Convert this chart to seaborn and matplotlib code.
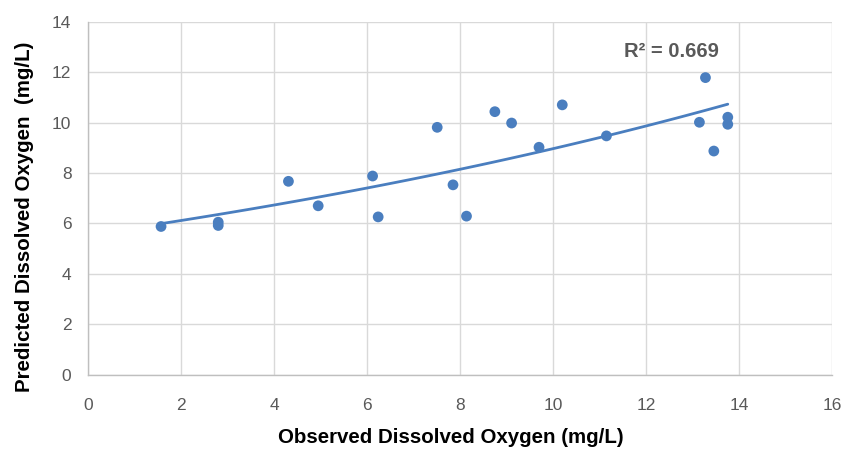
import numpy as np
import pandas as pd
import matplotlib
matplotlib.use("Agg")
import matplotlib.pyplot as plt
import seaborn as sns

# observed vs predicted dissolved oxygen (mg/L)
observed = [1.57, 2.80, 2.80, 4.31, 4.95, 6.12, 6.24, 7.51, 7.85, 8.14,
            8.75, 9.11, 9.70, 10.20, 11.15, 13.15, 13.28, 13.46, 13.76, 13.76]
predicted = [5.88, 6.05, 5.92, 7.67, 6.70, 7.88, 6.26, 9.81, 7.53, 6.29,
             10.43, 9.98, 9.02, 10.70, 9.47, 10.01, 11.78, 8.87, 10.21, 9.93]
r2_label = "R\u00b2 = 0.669"
x_ticks = [0, 2, 4, 6, 8, 10, 12, 14, 16]
y_ticks = [0, 2, 4, 6, 8, 10, 12, 14]

df = pd.DataFrame({"observed": observed, "predicted": predicted})

sns.set_style("whitegrid")
plt.rcParams["font.family"] = ["Liberation Sans", "DejaVu Sans"]

blue = "#4A7EBF"
fig, ax = plt.subplots(figsize=(8.55, 4.5), dpi=100)
fig.subplots_adjust(left=0.103, right=0.973, bottom=0.167, top=0.952)

# exponential trendline (like Excel's), fitted on the data
b, ln_a = np.polyfit(df["observed"], np.log(df["predicted"]), 1)
xs = np.linspace(df["observed"].min(), df["observed"].max(), 100)
trend = pd.DataFrame({"x": xs, "y": np.exp(ln_a) * np.exp(b * xs)})
sns.lineplot(data=trend, x="x", y="y", ax=ax, color=blue, linewidth=2)

sns.scatterplot(data=df, x="observed", y="predicted", ax=ax, color=blue,
                s=60, edgecolor="none", zorder=3)

ax.text(12.55, 12.8, r2_label, ha="center", va="center", fontsize=14.5,
        fontweight="bold", color="#595959")

ax.set_xlim(0, 16)
ax.set_ylim(0, 14)
ax.set_xticks(x_ticks)
ax.set_yticks(y_ticks)
ax.tick_params(axis="both", labelsize=12.5, colors="#595959", length=0)
ax.tick_params(axis="x", pad=17)
ax.tick_params(axis="y", pad=12)
ax.grid(True, color="#D9D9D9", linewidth=1)
for side in ["top", "right"]:
    ax.spines[side].set_visible(False)
for side in ["left", "bottom"]:
    ax.spines[side].set_color("#BFBFBF")
    ax.spines[side].set_linewidth(1)

ax.set_xlabel("Observed Dissolved Oxygen (mg/L)", fontsize=14.8,
              fontweight="bold", color="black", va="center")
ax.set_ylabel("Predicted Dissolved Oxygen  (mg/L)", fontsize=14.8,
              fontweight="bold", color="black", va="center")
ax.xaxis.set_label_coords(0.488, -0.176)
ax.yaxis.set_label_coords(-0.085, 0.447)

plt.savefig("out.png", dpi=100)
